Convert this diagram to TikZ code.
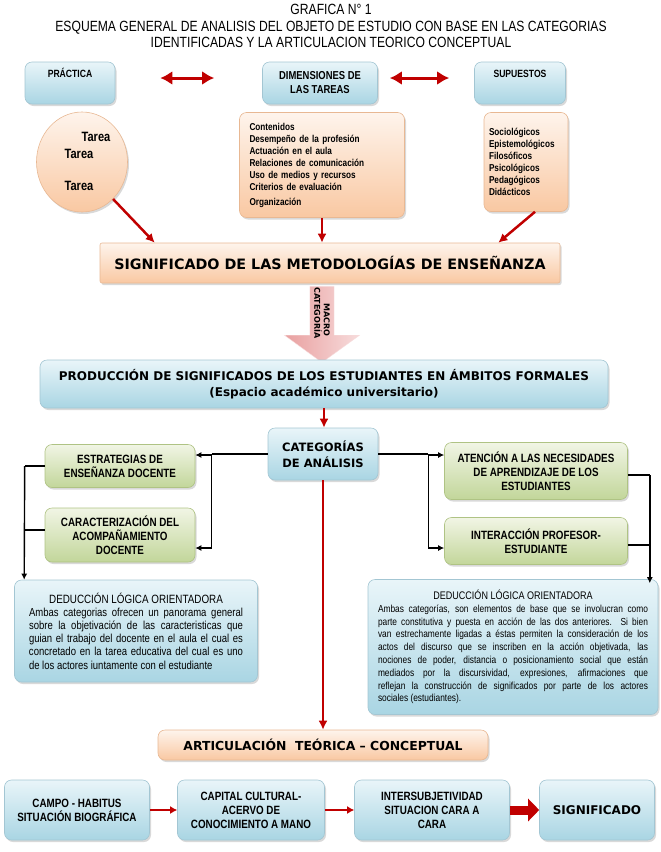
\documentclass[tikz,border=0pt]{standalone}
\usepackage{fontspec}
\setmainfont{Liberation Sans}
\newfontfamily\narrowfont[FakeStretch=0.82]{Liberation Sans}
\newfontfamily\verdfont{DejaVu Sans}
\usetikzlibrary{arrows.meta,shapes.geometric,shapes.arrows,shadows}

\definecolor{blueTop}{HTML}{E9F5F9}
\definecolor{blueBot}{HTML}{A9D5E3}
\definecolor{blueLine}{HTML}{A3C6D3}
\definecolor{orTop}{HTML}{FEF4EC}
\definecolor{orBot}{HTML}{F9C8A2}
\definecolor{orLine}{HTML}{E8B893}
\definecolor{grTop}{HTML}{F1F5E5}
\definecolor{grBot}{HTML}{C2D69A}
\definecolor{grLine}{HTML}{AFC384}
\definecolor{arrowRed}{HTML}{C00000}
\definecolor{pinkTop}{HTML}{E9A0A0}
\definecolor{pinkBot}{HTML}{F7DCDC}

\tikzset{
  box/.style={rounded corners=7pt, draw, line width=0.6pt, align=center, inner sep=3pt,
    drop shadow={shadow xshift=1.5pt, shadow yshift=-2pt, opacity=0.3}},
  bluebox/.style={box, draw=blueLine, top color=blueTop, bottom color=blueBot},
  orangebox/.style={box, draw=orLine, top color=orTop, bottom color=orBot},
  greenbox/.style={box, draw=grLine, top color=grTop, bottom color=grBot},
  lbl/.style={font=\narrowfont\bfseries\fontsize{12}{14}\selectfont},
  toplbl/.style={font=\narrowfont\bfseries\fontsize{10.5}{13}\selectfont},
  vlbl/.style={font=\verdfont\bfseries\fontsize{12}{16}\selectfont},
  listtxt/.style={font=\narrowfont\bfseries\fontsize{10}{12}\selectfont, align=left},
  redarrow/.style={draw=arrowRed, line width=2.5pt, -{Latex[length=9pt,width=9pt]}},
  redboth/.style={draw=arrowRed, line width=3pt, {Latex[length=12pt,width=14pt]}-{Latex[length=12pt,width=14pt]}},
  redsmall/.style={draw=arrowRed, line width=2.5pt, -{Latex[length=7pt,width=8pt]}},
  redbig/.style={draw=arrowRed, line width=9pt, -{Triangle[length=11pt,width=22pt]}},
  blk/.style={draw=black, line width=1.4pt},
  blkarrow/.style={blk, -{Latex[length=6pt,width=6pt]}}
}

\begin{document}
\begin{tikzpicture}[x=1pt, y=-1pt]
\useasboundingbox (0,0) rectangle (661,852);

% title
\node[font=\narrowfont\fontsize{14.8}{16.5}\selectfont, align=center] (title) at (331,26)
  {GRAFICA N° 1\\ESQUEMA GENERAL DE ANALISIS DEL OBJETO DE ESTUDIO CON BASE EN LAS CATEGORIAS\\IDENTIFICADAS Y LA ARTICULACION TEORICO CONCEPTUAL};

% top row
\node[bluebox, toplbl, minimum width=90, minimum height=42, text height=9pt, text depth=20pt] (prac) at (70,83) {PRÁCTICA};
\node[bluebox, toplbl, font=\narrowfont\bfseries\fontsize{11.5}{14}\selectfont, minimum width=115, minimum height=42] (dim) at (320,83) {DIMENSIONES DE\\LAS TAREAS};
\node[bluebox, toplbl, minimum width=91, minimum height=42, text height=9pt, text depth=20pt] (sup) at (520,83) {SUPUESTOS};
\draw[redboth, shorten <=45pt, shorten >=48pt] ([yshift=5pt]prac.east) -- ([yshift=5pt]dim.west);
\draw[redboth, shorten <=12pt, shorten >=25pt] ([yshift=5pt]dim.east) -- ([yshift=5pt]sup.west);

% second row
\node[ellipse, draw=orLine, line width=0.6pt, top color=orTop, bottom color=orBot,
  minimum width=91, minimum height=100,
  drop shadow={shadow xshift=1.5pt, shadow yshift=-2pt, opacity=0.3}] (tarea) at (82,162) {};
\node[font=\narrowfont\bfseries\fontsize{13.5}{15}\selectfont] (t1) at (96,137) {Tarea};
\node[font=\narrowfont\bfseries\fontsize{13.5}{15}\selectfont] (t2) at (79,154) {Tarea};
\node[font=\narrowfont\bfseries\fontsize{13.5}{15}\selectfont] (t3) at (79,186) {Tarea};
\node[orangebox, listtxt, minimum width=165, minimum height=105, text width=145] (dimlist) at (322,165)
  {Contenidos\\Desempeño de la profesión\\Actuación en el aula\\Relaciones de comunicación\\Uso de medios y recursos\\Criterios de evaluación\\[3pt]Organización};
\node[orangebox, listtxt, minimum width=84, minimum height=99, text width=74] (suplist) at (526,162)
  {Sociológicos\\Epistemológicos\\Filosóficos\\Psicológicos\\Pedagógicos\\Didácticos};

% significado
\node[orangebox, font=\verdfont\bfseries\fontsize{14.3}{16}\selectfont, rounded corners=2pt,
  minimum width=460, minimum height=40] (sig) at (330,263) {SIGNIFICADO DE LAS METODOLOGÍAS DE ENSEÑANZA};
\draw[redarrow] (tarea.-50) -- ([xshift=55pt]sig.north west);
\draw[redarrow] (dimlist.south) -- (dimlist.south |- sig.north);
\draw[redarrow] ([xshift=9pt]suplist.south) -- ([xshift=-62pt]sig.north east);

% macro categoria
\node[single arrow, rotate=-90, draw=pinkBot, left color=pinkTop, right color=pinkBot,
  minimum width=75, minimum height=74, single arrow head extend=19pt, single arrow tip angle=108,
  inner sep=1pt, align=center, font=\verdfont\bfseries\fontsize{8}{9.5}\selectfont] (macro) at (322,320)
  {MACRO\\CATEGORÍA\hspace*{14pt}};

% produccion
\node[bluebox, vlbl, minimum width=568, minimum height=48] (prod) at (324,384)
  {PRODUCCIÓN DE SIGNIFICADOS DE LOS ESTUDIANTES EN ÁMBITOS FORMALES\\(Espacio académico universitario)};
\node[bluebox, vlbl, font=\verdfont\bfseries\fontsize{11.5}{16}\selectfont, minimum width=110, minimum height=52] (cat) at (323,454)
  {CATEGORÍAS\\DE ANÁLISIS};
\draw[redarrow] (prod.south) -- (prod.south |- cat.north);

% left branch
\node[greenbox, lbl, minimum width=150, minimum height=43] (estr) at (120,466) {ESTRATEGIAS DE\\ENSEÑANZA DOCENTE};
\node[greenbox, lbl, minimum width=150, minimum height=54] (carac) at (120,535) {CARACTERIZACIÓN DEL\\ACOMPAÑAMIENTO\\DOCENTE};
\node[bluebox, minimum width=243, minimum height=102, text width=214, align=justify,
  font=\narrowfont\fontsize{11.6}{13.2}\selectfont] (dedl) at (136,631)
  {\makebox[\hsize]{\fontsize{12}{13}\selectfont DEDUCCIÓN LÓGICA ORIENTADORA}\par
  Ambas categorias ofrecen un panorama general\linebreak
  sobre la objetivación de las caracteristicas que\linebreak
  guian el trabajo del docente en el aula el cual es\linebreak
  concretado en la tarea educativa del cual es uno\linebreak
  de los actores iuntamente con el estudiante};
\coordinate (lj) at ([xshift=-56pt]cat.west);
\draw[blk] (cat.west) -- (lj);
\draw[blkarrow] (lj) |- ([yshift=11pt]estr.east);
\draw[blkarrow] (lj) |- ([yshift=-13pt]carac.east);
\coordinate (lk) at ([xshift=-20pt]estr.west);
\draw[blk] (estr.west) -- (lk);
\draw[blk] ([yshift=5pt]carac.west) -- ([yshift=5pt]carac.west -| lk);
\draw[blkarrow] (lk) -- ([xshift=10pt]dedl.north west);

% right branch
\node[greenbox, lbl, minimum width=183, minimum height=57] (aten) at (536,471) {ATENCIÓN A LAS NECESIDADES\\DE APRENDIZAJE DE LOS\\ESTUDIANTES};
\node[greenbox, lbl, minimum width=183, minimum height=47] (inter) at (536,541) {INTERACCIÓN PROFESOR-\\ESTUDIANTE};
\node[bluebox, minimum width=290, minimum height=135, text width=270, align=justify,
  font=\narrowfont\fontsize{10.2}{12.8}\selectfont] (dedr) at (513,647)
  {\makebox[\hsize]{\fontsize{11}{12}\selectfont DEDUCCIÓN LÓGICA ORIENTADORA}\par
  Ambas categorías, son elementos de base que se involucran como\linebreak
  parte constitutiva y puesta en acción de las dos anteriores. Si bien\linebreak
  van estrechamente ligadas a éstas permiten la consideración de los\linebreak
  actos del discurso que se inscriben en la acción objetivada, las\linebreak
  nociones de poder, distancia o posicionamiento social que están\linebreak
  mediados por la discursividad, expresiones, afirmaciones que\linebreak
  reflejan la construcción de significados por parte de los actores\linebreak
  sociales (estudiantes).};
\coordinate (rj) at ([xshift=50pt]cat.east);
\draw[blk] (cat.east) -- (rj);
\draw[blkarrow] (rj) |- ([yshift=16pt]aten.west);
\draw[blkarrow] (rj) |- ([yshift=-7pt]inter.west);
\coordinate (rk) at ([xshift=22pt]aten.east);
\draw[blk] ([yshift=-4pt]aten.east) -- ([yshift=-4pt]rk);
\draw[blk] ([yshift=-4pt]inter.east) -- ([yshift=-4pt]inter.east -| rk);
\draw[blkarrow] ([yshift=-4pt]rk) -- ([yshift=-4pt]rk |- dedr.north);

% articulacion
\node[orangebox, font=\verdfont\bfseries\fontsize{12.4}{14}\selectfont, minimum width=330, minimum height=30] (artic) at (323,745)
  {ARTICULACIÓN\ \ TEÓRICA – CONCEPTUAL};
\draw[redarrow] (cat.south) -- (artic.north);

% bottom chain
\node[bluebox, lbl, minimum width=145, minimum height=60] (campo) at (77,810) {CAMPO - HABITUS\\SITUACIÓN BIOGRÁFICA};
\node[bluebox, lbl, minimum width=147, minimum height=60] (capital) at (251,810) {CAPITAL CULTURAL-\\ACERVO DE\\CONOCIMIENTO A MANO};
\node[bluebox, lbl, minimum width=155, minimum height=60] (inters) at (432,810) {INTERSUBJETIVIDAD\\SITUACION CARA A\\CARA};
\node[bluebox, font=\verdfont\bfseries\fontsize{12}{14}\selectfont, minimum width=115, minimum height=60] (signif) at (597,810) {SIGNIFICADO};
\draw[redsmall] (campo.east) -- (capital.west);
\draw[redsmall] (capital.east) -- (inters.west);
\draw[redbig] (inters.east) -- (signif.west);
\end{tikzpicture}
\end{document}
